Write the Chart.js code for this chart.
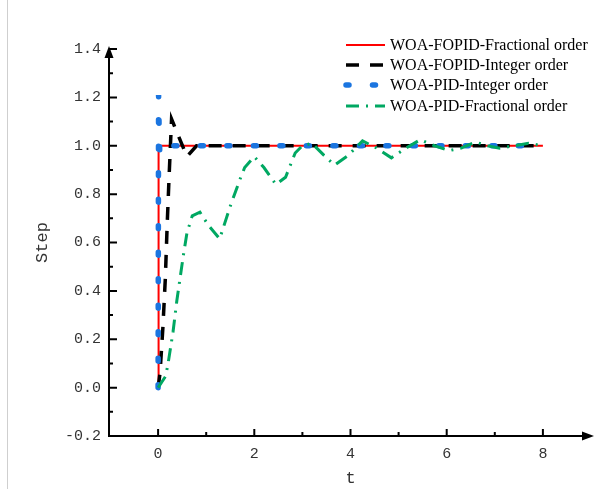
<!DOCTYPE html>
<html>
<head>
<meta charset="utf-8">
<script src="https://cdn.jsdelivr.net/npm/chart.js@4.4.1/dist/chart.umd.min.js"></script>
<style>
  html, body { margin: 0; padding: 0; background: #fff; }
  canvas { display: block; }
</style>
</head>
<body>
<canvas id="step-chart" width="615" height="489"></canvas>
<script>
// ── Data ─────────────────────────────────────────────────────────────────────
const tRed   = [0, 0.01, 8];
const yRed   = [0, 1.0, 1.0];

const tBlack = [0, 0.04, 0.1, 0.15, 0.19, 0.23, 0.28, 0.6, 0.8, 8];
const yBlack = [0, 0.06, 0.25, 0.45, 0.68, 0.88, 1.11, 0.955, 1.0, 1.0];

const tBlue  = [0, 0.01, 0.02, 0.035, 0.06, 8];
const yBlue  = [0, 1.21, 1.09, 0.97, 1.0, 1.0];

const tGreen = [0, 0.15, 0.2, 0.31, 0.39, 0.52, 0.6, 0.71, 0.87, 1.05, 1.28, 1.5, 1.7, 1.8,
                2.0, 2.2, 2.45, 2.65, 2.85, 3.0, 3.2, 3.45, 3.67, 3.95, 4.25, 4.55, 4.85,
                5.15, 5.45, 5.75, 6.05, 6.3, 6.6, 6.85, 7.1, 7.4, 7.7, 8.0];
const yGreen = [0, 0.045, 0.09, 0.23, 0.36, 0.54, 0.64, 0.71, 0.725, 0.67, 0.615, 0.75, 0.86, 0.91,
                0.955, 0.91, 0.84, 0.87, 0.97, 1.0, 1.01, 0.96, 0.92, 0.96, 1.02, 0.99, 0.95,
                0.99, 1.025, 1.0, 0.98, 0.99, 1.015, 1.0, 0.99, 1.0, 1.01, 1.0];

const seriesNames = [
  "WOA-FOPID-Fractional order",
  "WOA-FOPID-Integer order",
  "WOA-PID-Integer order",
  "WOA-PID-Fractional order",
];

const xTicks = [0, 2, 4, 6, 8];
const xMinorTicks = [1, 3, 5, 7];
const yTicks = [-0.2, 0, 0.2, 0.4, 0.6, 0.8, 1.0, 1.2, 1.4];
const yMinorTicks = [-0.1, 0.1, 0.3, 0.5, 0.7, 0.9, 1.1, 1.3];

const TICK_FONT = { family: "Liberation Mono", size: 15 };
const TITLE_FONT = { family: "Liberation Mono", size: 17 };

function pts(xs, ys) {
  return xs.map((x, i) => ({ x, y: ys[i] }));
}

// ── Axes with inward ticks, arrows and the legend ────────────────────────────
const axesPlugin = {
  id: "axesArrows",
  afterDraw(chart) {
    const { ctx, chartArea: a, scales: { x, y } } = chart;
    const ax = a.left - 1, ay = a.bottom;
    ctx.save();

    // faint frame line on the left
    ctx.strokeStyle = "#cfcfcf";
    ctx.lineWidth = 1;
    ctx.beginPath(); ctx.moveTo(7.5, 0); ctx.lineTo(7.5, chart.height); ctx.stroke();

    ctx.strokeStyle = "#000";
    ctx.fillStyle = "#000";
    ctx.lineWidth = 2;
    ctx.beginPath();
    ctx.moveTo(ax, ay + 1); ctx.lineTo(ax, a.top + 4);
    ctx.moveTo(ax - 1, ay); ctx.lineTo(a.right - 4, ay);
    ctx.stroke();

    ctx.beginPath();
    yTicks.forEach(v => { const p = y.getPixelForValue(v); ctx.moveTo(ax, p); ctx.lineTo(ax + 8, p); });
    yMinorTicks.forEach(v => { const p = y.getPixelForValue(v); ctx.moveTo(ax, p); ctx.lineTo(ax + 4, p); });
    xTicks.forEach(v => { const p = x.getPixelForValue(v); ctx.moveTo(p, ay); ctx.lineTo(p, ay - 7); });
    xMinorTicks.forEach(v => { const p = x.getPixelForValue(v); ctx.moveTo(p, ay); ctx.lineTo(p, ay - 4); });
    ctx.stroke();

    // arrow heads
    ctx.beginPath();
    ctx.moveTo(ax, a.top - 3); ctx.lineTo(ax - 4.5, a.top + 9); ctx.lineTo(ax + 4.5, a.top + 9);
    ctx.closePath(); ctx.fill();
    ctx.beginPath();
    ctx.moveTo(a.right + 3, ay); ctx.lineTo(a.right - 9, ay - 4.5); ctx.lineTo(a.right - 9, ay + 4.5);
    ctx.closePath(); ctx.fill();

    // legend
    const lx0 = 346, lx1 = 385, rowY = [45, 65, 85, 106];
    chart.data.datasets.forEach((ds, i) => {
      const yy = rowY[i];
      ctx.save();
      ctx.strokeStyle = ds.borderColor;
      ctx.lineWidth = ds.borderWidth;
      ctx.lineCap = ds.borderCapStyle || "butt";
      ctx.setLineDash(ds.borderDash || []);
      ctx.beginPath(); ctx.moveTo(lx0, yy); ctx.lineTo(lx1, yy); ctx.stroke();
      ctx.restore();
      ctx.fillStyle = "#000";
      ctx.font = "16px 'Liberation Serif'";
      ctx.textBaseline = "middle";
      ctx.fillText(ds.label, 390, yy + 1);
    });
    ctx.restore();
  },
};

new Chart(document.getElementById("step-chart"), {
  type: "line",
  data: {
    datasets: [
      { label: seriesNames[0], data: pts(tRed, yRed), borderColor: "#ff0000",
        borderWidth: 2, order: 4 },
      { label: seriesNames[1], data: pts(tBlack, yBlack), borderColor: "#000000",
        borderWidth: 3.5, borderDash: [13, 11], order: 3 },
      { label: seriesNames[2], data: pts(tBlue, yBlue), borderColor: "#1b75e0",
        borderWidth: 5.5, borderDash: [3, 23.5], borderCapStyle: "round", order: 2 },
      { label: seriesNames[3], data: pts(tGreen, yGreen), borderColor: "#00a862",
        borderWidth: 3, borderDash: [13, 7, 2, 7], order: 1 },
    ],
  },
  options: {
    responsive: false,
    animation: false,
    clip: false,
    elements: { point: { radius: 0 }, line: { tension: 0, fill: false } },
    layout: { padding: { left: 0, right: 24, top: 49, bottom: 0 } },
    plugins: { legend: { display: false }, tooltip: { enabled: false } },
    scales: {
      x: {
        type: "linear", min: -1, max: 9,
        afterFit: s => { s.height = 53; },
        afterBuildTicks: s => { s.ticks = xTicks.map(v => ({ value: v })); },
        grid: { display: false, drawTicks: false },
        border: { display: false },
        ticks: { color: "#333", font: TICK_FONT, padding: 9, maxRotation: 0,
                 callback: v => String(v) },
        title: { display: true, text: "t", color: "#333", font: TITLE_FONT,
                 padding: { top: 0, bottom: 0 } },
      },
      y: {
        min: -0.2, max: 1.4,
        afterFit: s => { s.width = 110; },
        afterBuildTicks: s => { s.ticks = yTicks.map(v => ({ value: v })); },
        grid: { display: false, drawTicks: false },
        border: { display: false },
        ticks: { color: "#333", font: TICK_FONT, padding: 9,
                 callback: v => Number(v).toFixed(1) },
        title: { display: true, text: "Step", color: "#333", font: TITLE_FONT,
                 padding: { top: 32, bottom: 0 } },
      },
    },
  },
  plugins: [axesPlugin],
});
</script>
</body>
</html>
